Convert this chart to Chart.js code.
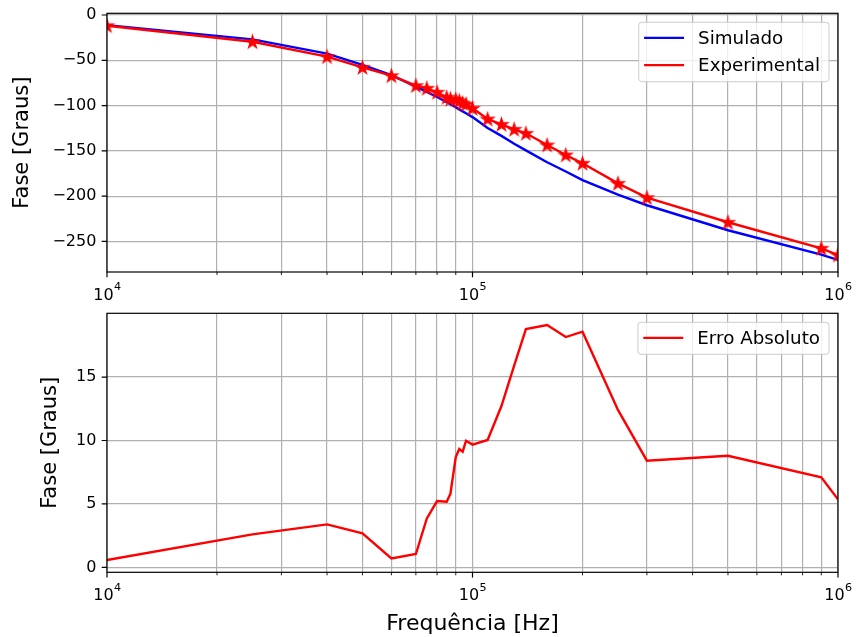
<!DOCTYPE html>
<html>
<head>
<meta charset="utf-8">
<script src="https://cdn.jsdelivr.net/npm/chart.js@4/dist/chart.umd.min.js"></script>
<style>
  body { margin: 0; background: #fff; overflow: hidden; }
  #wrap { position: relative; width: 856px; height: 637px; }
  canvas { position: absolute; left: 0; }
  #phase { top: 0; }
  #error { top: 300px; }
</style>
</head>
<body>
<div id="wrap">
  <canvas id="phase" width="856" height="310"></canvas>
  <canvas id="error" width="856" height="337"></canvas>
</div>
<script>
// frequencies (Hz) of the measured points
const freqs = [1e4, 2.5e4, 4e4, 5e4, 6e4, 7e4, 7.5e4, 8e4, 8.5e4, 8.7e4, 9e4, 9.2e4, 9.4e4, 9.6e4,
  1e5, 1.1e5, 1.2e5, 1.3e5, 1.4e5, 1.6e5, 1.8e5, 2e5, 2.5e5, 3e5, 5e5, 9e5, 1e6];

// phase in degrees
const phaseSim = [-11.2, -26.9, -42.6, -55.1, -66.3, -79.0, -84.8, -90.5, -96.1, -98.5, -101.9, -104.2, -106.4, -108.5,
  -112.7, -124.8, -133.4, -142.1, -149.4, -162.6, -172.7, -182.3, -198.2, -210.0, -237.6, -264.6, -270.4];
const phaseExp = [-11.8, -29.5, -46.0, -57.8, -67.0, -78.0, -80.9, -85.3, -90.9, -92.7, -93.2, -94.9, -97.3, -98.5,
  -103.0, -114.8, -120.7, -126.2, -130.6, -143.5, -154.5, -163.7, -185.8, -201.6, -228.8, -257.5, -265.0];

// absolute error |sim - exp|
const absError = [0.58, 2.6, 3.39, 2.68, 0.71, 1.05, 3.86, 5.23, 5.18, 5.8, 8.7, 9.33, 9.12, 9.98,
  9.68, 10.04, 12.72, 15.9, 18.79, 19.11, 18.16, 18.58, 12.41, 8.41, 8.8, 7.1, 5.36];

// axes
const freqRange = [1e4, 1e6];
const decades = [1e4, 1e5, 1e6];
const decadeExps = ['4', '5', '6'];
const phaseRange = [-283.7, 1.9];
const phaseTicks = [0, -50, -100, -150, -200, -250];
const errorRange = [-0.39, 20.03];
const errorTicks = [0, 5, 10, 15];

const FONT = 'DejaVu Sans';
const TICK_SIZE = 16;
Chart.defaults.font.family = FONT;
Chart.defaults.color = '#000';

// log grid: 1..9 x 10^n
const gridFreqs = [];
for (let e = 4; e < 6; e++) {
  for (let m = 1; m < 10; m++) gridFreqs.push(m * Math.pow(10, e));
}
gridFreqs.push(1e6);

function starMarker(r, color) {
  const c = document.createElement('canvas');
  const s = Math.ceil(r * 2 + 4);
  c.width = s; c.height = s;
  const g = c.getContext('2d');
  g.fillStyle = color; g.strokeStyle = color; g.lineWidth = 1.5; g.lineJoin = 'miter';
  g.beginPath();
  for (let i = 0; i < 10; i++) {
    const rad = i % 2 ? r * 0.382 : r;
    const a = -Math.PI / 2 + i * Math.PI / 5;
    g.lineTo(s / 2 + rad * Math.cos(a), s / 2 + 0.5 + rad * Math.sin(a));
  }
  g.closePath(); g.fill(); g.stroke();
  return c;
}

// spines, tick marks and 10^n labels, matplotlib style
const axesPlugin = {
  id: 'mplAxes',
  afterDatasetsDraw(chart) {
    const { ctx, chartArea: a, scales } = chart;
    ctx.save();
    ctx.strokeStyle = '#000';
    scales.x.ticks.forEach(t => {
      const x = scales.x.getPixelForValue(t.value);
      const major = decades.includes(t.value);
      ctx.lineWidth = major ? 1.2 : 0.9;
      ctx.beginPath();
      ctx.moveTo(x, a.bottom); ctx.lineTo(x, a.bottom + (major ? 5.3 : 3));
      ctx.stroke();
    });
    ctx.lineWidth = 1.2;
    ctx.beginPath();
    scales.y.ticks.forEach(t => {
      const y = scales.y.getPixelForValue(t.value);
      ctx.moveTo(a.left, y); ctx.lineTo(a.left - 5.3, y);
    });
    ctx.stroke();
    ctx.strokeRect(a.left, a.top, a.right - a.left, a.bottom - a.top);

    // decade labels with a real superscript
    ctx.fillStyle = '#000';
    ctx.textBaseline = 'alphabetic';
    ctx.textAlign = 'left';
    const base = a.bottom + 28;
    decades.forEach((d, i) => {
      const x = scales.x.getPixelForValue(d);
      ctx.font = TICK_SIZE + 'px "' + FONT + '"';
      const w1 = ctx.measureText('10').width;
      ctx.font = (TICK_SIZE * 0.7) + 'px "' + FONT + '"';
      const w2 = ctx.measureText(decadeExps[i]).width;
      const x0 = x - (w1 + w2) / 2;
      ctx.font = TICK_SIZE + 'px "' + FONT + '"';
      ctx.fillText('10', x0, base);
      ctx.font = (TICK_SIZE * 0.7) + 'px "' + FONT + '"';
      ctx.fillText(decadeExps[i], x0 + w1 + 0.5, base - 0.6 * TICK_SIZE);
    });
    ctx.restore();
  }
};

const legendPlugin = {
  id: 'boxLegend',
  afterDraw(chart) {
    const { ctx, chartArea: a } = chart;
    const items = chart.data.datasets.filter(d => d.label);
    ctx.save();
    ctx.font = '18.3px "' + FONT + '"';
    const tw = Math.max(...items.map(d => ctx.measureText(d.label).width));
    const w = 5.4 + 40 + 14 + tw + 9;
    const h = 15.5 + (items.length - 1) * 27.3 + 16.5;
    const x0 = a.right - 9 - w, y0 = a.top + 9;
    ctx.beginPath();
    ctx.roundRect(x0, y0, w, h, 3.5);
    ctx.fillStyle = 'rgba(255,255,255,0.8)'; ctx.fill();
    ctx.strokeStyle = 'rgba(204,204,204,0.8)'; ctx.lineWidth = 1.2; ctx.stroke();
    items.forEach((d, i) => {
      const y = y0 + 15.5 + i * 27.3;
      ctx.strokeStyle = d.borderColor; ctx.lineWidth = 2.3;
      ctx.beginPath(); ctx.moveTo(x0 + 5.4, y); ctx.lineTo(x0 + 45.4, y); ctx.stroke();
      ctx.fillStyle = '#000'; ctx.textBaseline = 'middle';
      ctx.fillText(d.label, x0 + 59.4, y + 1);
    });
    ctx.restore();
  }
};

function makeChart(id, datasets, opt) {
  const gridOpts = { color: '#b0b0b0', lineWidth: 1.2, drawTicks: false };
  return new Chart(document.getElementById(id), {
    type: 'line',
    data: { datasets },
    options: {
      responsive: false,
      animation: false,
      events: [],
      layout: { padding: { top: 13.3, right: 18, left: 0, bottom: 0 } },
      plugins: { legend: { display: false }, tooltip: { enabled: false } },
      scales: {
        x: {
          type: 'logarithmic',
          min: freqRange[0], max: freqRange[1],
          afterBuildTicks: s => { s.ticks = gridFreqs.map(v => ({ value: v })); },
          afterFit: s => { s.height = opt.xHeight; s.paddingLeft = 0; s.paddingRight = 0; },
          ticks: {
            autoSkip: false, maxRotation: 0, padding: 11.8,
            font: { size: TICK_SIZE }, color: '#000',
            callback: () => ''
          },
          grid: gridOpts,
          border: { display: false },
          title: {
            display: !!opt.xTitle, text: opt.xTitle || '', color: '#000',
            font: { size: 22 }, padding: { top: 0.8, bottom: 0 }
          }
        },
        y: {
          min: opt.yRange[0], max: opt.yRange[1],
          afterBuildTicks: s => { s.ticks = opt.yTicks.map(v => ({ value: v })); },
          afterFit: s => { s.width = 107; s.paddingTop = 0; s.paddingBottom = 0; },
          ticks: {
            padding: 10.6, font: { size: TICK_SIZE }, color: '#000',
            callback: v => v < 0 ? '\u2212' + Math.abs(v) : String(v)
          },
          grid: gridOpts,
          border: { display: false },
          title: {
            display: true, text: 'Fase [Graus]', color: '#000',
            font: { size: 21 }, padding: { top: opt.yTitlePad, bottom: 0 }
          }
        }
      }
    },
    plugins: [axesPlugin, legendPlugin]
  });
}

const pts = ys => freqs.map((f, i) => ({ x: f, y: ys[i] }));

makeChart('phase', [
  {
    label: 'Simulado', data: pts(phaseSim), order: 1,
    borderColor: '#0000ff', borderWidth: 2.4, pointRadius: 0, tension: 0
  },
  {
    label: 'Experimental', data: pts(phaseExp), order: 0,
    borderColor: '#ff0000', borderWidth: 2.4, tension: 0,
    pointStyle: starMarker(6.3, '#ff0000'), pointRadius: 5
  }
], { xHeight: 38, yRange: phaseRange, yTicks: phaseTicks, yTitlePad: 10 });

makeChart('error', [
  {
    label: 'Erro Absoluto', data: pts(absError),
    borderColor: '#ff0000', borderWidth: 2.4, pointRadius: 0, tension: 0
  }
], { xHeight: 64.7, yRange: errorRange, yTicks: errorTicks, yTitlePad: 38.4, xTitle: 'Frequ\u00eancia [Hz]' });
</script>
</body>
</html>
